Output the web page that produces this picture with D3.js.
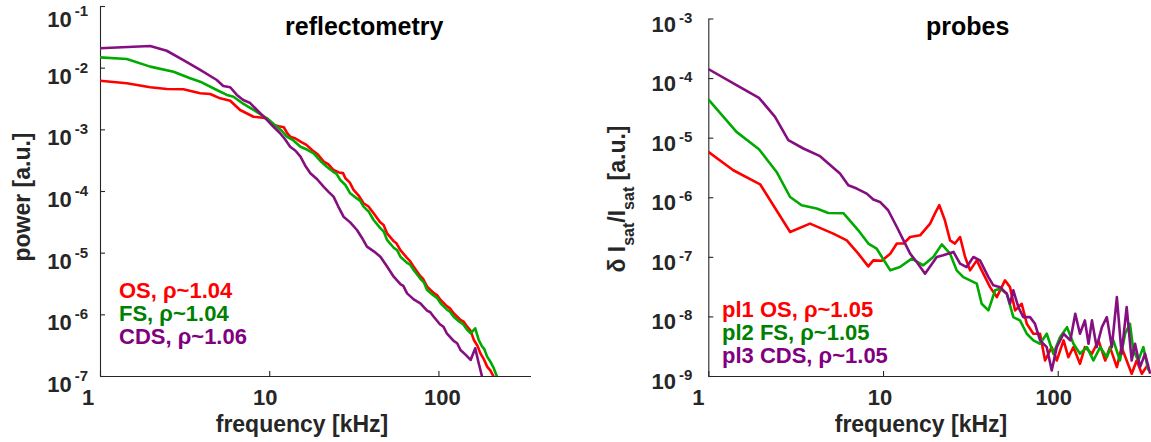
<!DOCTYPE html>
<html lang="en">
<head>
<meta charset="utf-8">
<title>Spectra</title>
<style>
  body { margin: 0; background: #fff; }
  svg text { font-family: "Liberation Sans", Arial, sans-serif; font-weight: bold; }
</style>
</head>
<body>
<svg width="1151" height="442"></svg>
<script src="https://cdn.jsdelivr.net/npm/d3@7"></script>
<script>
// ---- data (frequency in kHz, power) ----
const reflOS = [[1,6.15e-3],[1.44,5.58e-3],[1.98,4.81e-3],[2.48,4.51e-3],[3.11,4.46e-3],[3.91,3.84e-3],[4.48,3.74e-3],[5.13,3.18e-3],[5.88,2.91e-3],[6.73,2.06e-3],[8.07,1.60e-3],[9.69,1.51e-3],[10.6,1.17e-3],[11.4,1.12e-3],[12.2,1.08e-3],[12.8,8.6e-4],[13.3,7.60e-4],[14.3,7.1e-4],[15.3,6.31e-4],[16.6,5.6e-4],[17.9,4.62e-4],[19.4,3.9e-4],[21.0,2.99e-4],[22.4,2.7e-4],[24.0,2.19e-4],[25.8,2.0e-4],[27.3,1.95e-4],[28.2,1.61e-4],[29.9,1.38e-4],[31.5,1.04e-4],[33.6,8.6e-5],[36.1,6.32e-5],[38.6,5.6e-5],[41.4,4.35e-5],[45.3,3.1e-5],[47.4,2.8e-5],[49.7,2.06e-5],[54.2,1.55e-5],[56.5,1.42e-5],[59.6,1.10e-5],[65,8.3e-6],[68,7.3e-6],[71.4,5.93e-6],[78,4.2e-6],[81,3.8e-6],[85.7,2.81e-6],[94,2.2e-6],[98,2.05e-6],[103,1.71e-6],[112,1.36e-6],[117,1.25e-6],[123,1.04e-6],[135,8.1e-7],[141,7.6e-7],[148,6.31e-7],[155,5.4e-7],[162,3.84e-7],[170,3.1e-7],[177,2.33e-7],[185,1.9e-7],[194,1.42e-7],[203,1.22e-7],[212,9.75e-8]];
const reflFS = [[1,1.47e-2],[1.44,1.38e-2],[1.98,1.04e-2],[2.72,8.61e-3],[3.41,6.73e-3],[3.91,5.92e-3],[4.90,4.34e-3],[5.62,3.61e-3],[6.15,3.38e-3],[7.05,2.58e-3],[8.07,2.06e-3],[9.69,1.51e-3],[11.1,1.10e-3],[11.9,9.4e-4],[12.7,7.60e-4],[13.9,6.6e-4],[15.3,5.23e-4],[16.7,4.7e-4],[18.3,4.08e-4],[20.0,3.1e-4],[21.9,2.48e-4],[23.9,2.05e-4],[25.0,1.9e-4],[26.3,1.51e-4],[28.2,1.25e-4],[30.1,9.18e-5],[32.9,7.6e-5],[34.4,7.0e-5],[36.1,5.57e-5],[38.8,4.6e-5],[41.4,3.39e-5],[45.3,2.5e-5],[47.5,2.2e-5],[49.7,1.61e-5],[54.4,1.2e-5],[57,1.1e-5],[59.6,8.61e-6],[65,6.9e-6],[68,6.4e-6],[71.4,5.24e-6],[78,3.8e-6],[82,3.3e-6],[85.7,2.48e-6],[94,2.0e-6],[98,1.85e-6],[103,1.51e-6],[112,1.2e-6],[117,1.1e-6],[123,9.16e-7],[133,7.6e-7],[140,6.9e-7],[148,5.6e-7],[155,4.93e-7],[165,5.94e-7],[173,3.84e-7],[180,3.1e-7],[187,2.7e-7],[194,2.06e-7],[203,1.7e-7],[212,1.35e-7],[222,9.75e-8]];
const reflCDS = [[1,2.06e-2],[1.98,2.24e-2],[2.48,1.88e-2],[3.11,1.33e-2],[3.91,9.17e-3],[4.90,6.31e-3],[5.35,5.05e-3],[5.88,4.81e-3],[6.44,3.61e-3],[7.02,2.99e-3],[7.72,2.67e-3],[8.46,2.06e-3],[9.69,1.42e-3],[10.6,1.1e-3],[11.6,8.63e-4],[12.4,6.9e-4],[13.3,5.23e-4],[14.3,4.5e-4],[15.3,3.60e-4],[16.3,2.6e-4],[17.5,1.94e-4],[19.2,1.55e-4],[21.0,1.17e-4],[22.5,9.6e-5],[24.0,8.09e-5],[25.6,5.6e-5],[27.5,3.83e-5],[30.1,3.1e-5],[33.0,2.33e-5],[35.3,1.75e-5],[37.8,1.25e-5],[41.5,1.05e-5],[45.4,8.61e-6],[49.6,6.0e-6],[54.4,4.08e-6],[59.6,3.1e-6],[62,2.9e-6],[65.3,2.19e-6],[71.4,1.75e-6],[78.2,1.51e-6],[85.7,1.15e-6],[89.5,1.08e-6],[93.8,9.16e-7],[102,6.9e-7],[107,6.3e-7],[112,4.93e-7],[123,3.7e-7],[129,3.4e-7],[135,2.64e-7],[145,2.2e-7],[155,1.82e-7],[165,2.81e-7],[173,1.61e-7],[181,9.8e-8]];

const probeOS = [[1,5.77e-6],[1.39,2.84e-6],[1.98,1.65e-6],[2.94,2.61e-7],[3.82,3.61e-7],[5.19,2.45e-7],[6.20,1.89e-7],[7.22,1.13e-7],[8.24,6.92e-8],[8.80,8.73e-8],[9.84,8.6e-8],[11.0,1.13e-7],[12.0,1.67e-7],[13.1,1.67e-7],[14.3,2.15e-7],[16.3,2.30e-7],[18.6,3.61e-7],[19.8,5.32e-7],[21.0,7.35e-7],[22.6,4.10e-7],[24.2,1.89e-7],[25.8,1.67e-7],[27.6,2.15e-7],[29.5,9.93e-8],[31.5,5.93e-8],[34.4,8.73e-8],[36.7,5.93e-8],[41.0,3.10e-8],[44.8,2.11e-8],[49.9,4.03e-8],[53.3,3.10e-8],[57.0,1.26e-8],[62.2,1.63e-8],[66.5,7.53e-9],[72.5,5.12e-9],[79.2,5.12e-9],[84.6,1.82e-9],[92.4,3.05e-9],[98.7,1.82e-9],[108,3.95e-9],[115,2.07e-9],[123,3.05e-9],[134,1.60e-9],[143,3.05e-9],[157,2.36e-9],[171,3.95e-9],[187,1.82e-9],[199,3.05e-9],[218,1.41e-9],[232,3.05e-9],[248,1.82e-9],[265,1.09e-9],[283,1.82e-9],[303,1.09e-9],[330,1.60e-9]];
const probeFS = [[1,4.39e-5],[1.45,1.25e-5],[1.95,6.41e-6],[2.46,2.66e-6],[2.94,1.01e-6],[3.42,7.35e-7],[4.17,6.46e-7],[4.86,5.45e-7],[5.93,5.40e-7],[7.22,2.79e-7],[8.24,1.67e-7],[9.20,1.37e-7],[11.0,5.93e-8],[12.5,6.74e-8],[14.6,9.33e-8],[17.0,7.19e-8],[19.4,9.93e-8],[21.7,1.62e-7],[24.2,1.13e-7],[26.4,5.93e-8],[28.8,4.57e-8],[31.5,4.03e-8],[34.4,3.55e-8],[36.7,1.63e-8],[40.1,1.26e-8],[43.8,2.74e-8],[46.8,2.92e-8],[51.1,2.40e-8],[55.7,9.73e-9],[60.8,8.57e-9],[66.5,5.12e-9],[72.5,3.95e-9],[79.2,3.48e-9],[86.5,5.12e-9],[94.4,2.36e-9],[103,4.49e-9],[113,6.61e-9],[123,3.48e-9],[134,2.36e-9],[147,3.05e-9],[160,1.82e-9],[175,3.05e-9],[191,2.07e-9],[208,3.95e-9],[227,1.82e-9],[243,5.12e-9],[259,7.53e-9],[271,2.69e-9],[289,1.82e-9],[309,3.05e-9],[330,1.24e-9]];
const probeCDS = [[1,1.42e-4],[1.45,7.62e-5],[1.95,4.67e-5],[2.41,2.24e-5],[2.87,9.08e-6],[3.50,6.58e-6],[4.36,4.89e-6],[5.67,2.50e-6],[6.33,1.59e-6],[7.07,1.40e-6],[8.07,1.15e-6],[8.80,9.14e-7],[9.61,8.34e-7],[10.7,6.05e-7],[12.0,3.17e-7],[13.1,1.89e-7],[14.3,1.13e-7],[15.6,8.18e-8],[17.4,5.22e-8],[20.3,9.93e-8],[22.1,1.06e-7],[25.3,1.21e-7],[27.6,7.69e-8],[30.1,6.74e-8],[32.9,9.93e-8],[35.9,8.73e-8],[40.1,4.57e-8],[42.8,3.32e-8],[46.8,3.10e-8],[51.1,2.40e-8],[53.3,1.63e-8],[55.7,2.74e-8],[59.5,1.43e-8],[63.5,9.73e-9],[69.4,9.73e-9],[74.1,7.53e-9],[79.2,3.95e-9],[86.5,3.05e-9],[92.4,1.24e-9],[98.7,3.05e-9],[108,5.12e-9],[118,3.95e-9],[126,1.11e-8],[134,5.12e-9],[143,8.57e-9],[150,3.48e-9],[157,8.57e-9],[167,3.05e-9],[179,6.61e-9],[191,9.73e-9],[204,3.05e-9],[218,2.11e-8],[232,2.36e-9],[248,1.43e-8],[265,1.82e-9],[277,3.48e-9],[296,1.41e-9],[316,2.36e-9],[338,1.09e-9]];

const xTicks = [1, 10, 100];
const reflExps = [-1, -2, -3, -4, -5, -6, -7];
const probeExps = [-3, -4, -5, -6, -7, -8, -9];
const reflLegend = ["OS, ρ~1.04", "FS, ρ~1.04", "CDS, ρ~1.06"];
const probeLegend = ["pl1 OS, ρ~1.05", "pl2 FS, ρ~1.05", "pl3 CDS, ρ~1.05"];

const lineColors = ["#ff0000", "#00aa00", "#850f80"];
const textColors = ["#ff0000", "#008000", "#800080"];
const axisColor = "#262626";

const svg = d3.select("svg");

function panel(cfg) {
    const x = d3.scaleLog().domain([1, 350]).range(cfg.xr);
    const y = d3.scaleLog().domain(cfg.yd).range(cfg.yr);
    const g = svg.append("g");

    g.append("clipPath").attr("id", cfg.id)
        .append("rect")
        .attr("x", cfg.xr[0]).attr("y", cfg.yr[1])
        .attr("width", cfg.xr[1] - cfg.xr[0]).attr("height", cfg.yr[0] - cfg.yr[1]);

    // axes
    const ax = g.append("g").attr("transform", `translate(0,${cfg.yr[0]})`)
        .call(d3.axisBottom(x).tickValues(xTicks).tickSizeInner(-5).tickSizeOuter(0).tickFormat(""));
    const ay = g.append("g").attr("transform", `translate(${cfg.xr[0]},0)`)
        .call(d3.axisLeft(y).tickValues(cfg.exps.map(e => Math.pow(10, e))).tickSizeInner(-5).tickSizeOuter(0).tickFormat(""));
    [ax, ay].forEach(a => {
        a.selectAll("path, line").attr("stroke", axisColor).attr("stroke-width", 1.1);
    });

    // x tick labels
    g.selectAll(".xl").data(xTicks).join("text")
        .attr("x", (d, i) => x(d) + cfg.xDx[i])
        .attr("y", 405)
        .attr("text-anchor", "middle")
        .attr("font-size", 22)
        .attr("fill", axisColor)
        .text(d => d);

    // y tick labels 10^n
    const yl = g.selectAll(".yl").data(cfg.exps).join("text")
        .attr("x", cfg.xr[0] - cfg.labGap)
        .attr("y", d => Math.max(y(Math.pow(10, d)) + cfg.labDy, 27))
        .attr("text-anchor", "end")
        .attr("fill", axisColor);
    yl.append("tspan").attr("font-size", 22).text("10");
    yl.append("tspan").attr("font-size", 15).attr("dx", 3).attr("dy", cfg.supDy).text(d => d);

    // series
    const line = d3.line().x(d => x(d[0])).y(d => y(d[1]));
    g.append("g").attr("clip-path", `url(#${cfg.id})`)
        .selectAll("path").data(cfg.series).join("path")
        .attr("d", line)
        .attr("fill", "none")
        .attr("stroke", (d, i) => lineColors[i])
        .attr("stroke-width", 2.6)
        .attr("stroke-linejoin", "round");

    // legend
    g.selectAll(".lg").data(cfg.legend).join("text")
        .attr("x", cfg.legX)
        .attr("y", (d, i) => cfg.legY + i * 23.2)
        .attr("font-size", 22)
        .attr("fill", (d, i) => textColors[i])
        .text(d => d);

    // title
    g.append("text").attr("x", cfg.titleX).attr("y", 35)
        .attr("font-size", 25).attr("fill", "#000").text(cfg.title);

    // x label
    g.append("text").attr("x", cfg.xlabX).attr("y", 432)
        .attr("text-anchor", "middle").attr("font-size", 23).attr("fill", axisColor)
        .text("frequency [kHz]");
    return g;
}

const left = panel({
    id: "clipL", xr: [100, 530.5], yd: [1e-7, 1e-1], yr: [376, 6],
    exps: reflExps, series: [reflOS, reflFS, reflCDS], legend: reflLegend,
    legX: 119, legY: 298, title: "reflectometry", titleX: 285, xlabX: 302,
    labGap: 12, labDy: 16, supDy: -11, xDx: [-12, -4, 4]
});
left.append("text")
    .attr("transform", "translate(30,197) rotate(-90)")
    .attr("text-anchor", "middle").attr("font-size", 23).attr("fill", axisColor)
    .text("power [a.u.]");

const right = panel({
    id: "clipR", xr: [708.3, 1152.8], yd: [1e-9, 1e-3], yr: [376, 18.5],
    exps: probeExps, series: [probeOS, probeFS, probeCDS], legend: probeLegend,
    legX: 722, legY: 316.7, title: "probes", titleX: 926, xlabX: 921,
    labGap: 16, labDy: 13, supDy: -9, xDx: [-10, -3, -4]
});
const yt = right.append("text")
    .attr("transform", "translate(625,199) rotate(-90)")
    .attr("text-anchor", "middle").attr("font-size", 23).attr("fill", axisColor);
yt.append("tspan").text("δ I");
yt.append("tspan").attr("font-size", 16).attr("dy", 9).text("sat");
yt.append("tspan").attr("dy", -9).text("/I");
yt.append("tspan").attr("font-size", 16).attr("dy", 9).text("sat");
yt.append("tspan").attr("dy", -9).text("  [a.u.]");
</script>
</body>
</html>
